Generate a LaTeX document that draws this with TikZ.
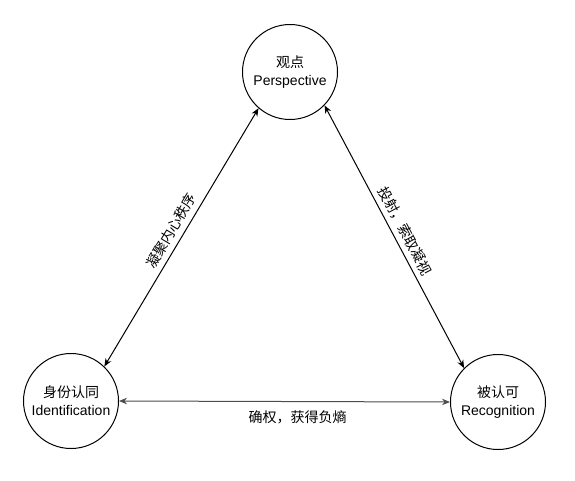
\documentclass[tikz,border=0pt]{standalone}
\usepackage{fontspec}
\setmainfont{Liberation Sans}
\newfontfamily\cjk{Noto Sans CJK SC}
\usetikzlibrary{arrows.meta,positioning}

\begin{document}
\begin{tikzpicture}[x=1pt,y=-1pt,
  font=\fontsize{14}{18}\selectfont,
  role/.style={draw,circle,line width=1pt,minimum size=95pt,inner sep=0pt,align=center},
  link/.style={{Stealth[length=8pt,width=6.5pt]}-{Stealth[length=8pt,width=6.5pt]},line width=1pt},
  tag/.style={font=\cjk\fontsize{14}{18}\selectfont,inner sep=4pt}]
\useasboundingbox (0,0) rectangle (575,480);
\node[role](pers) at (290,72){{\cjk 观点}\\Perspective};
\node[role](idnt) at (71,401){{\cjk 身份认同}\\Identification};
\node[role](recog) at (498,402){{\cjk 被认可}\\Recognition};
\draw[link](idnt.46)--node[tag,sloped,above=1pt]{凝聚内心秩序}(pers.229);
\draw[link](pers.-44)--node[tag,sloped,above=1pt]{投射，索取凝视}(recog.135);
\draw[link,black!70](idnt.east)--node[tag,below=5pt,pos=.54,text=black]{确权，获得负熵}(recog.west);
\end{tikzpicture}
\end{document}
